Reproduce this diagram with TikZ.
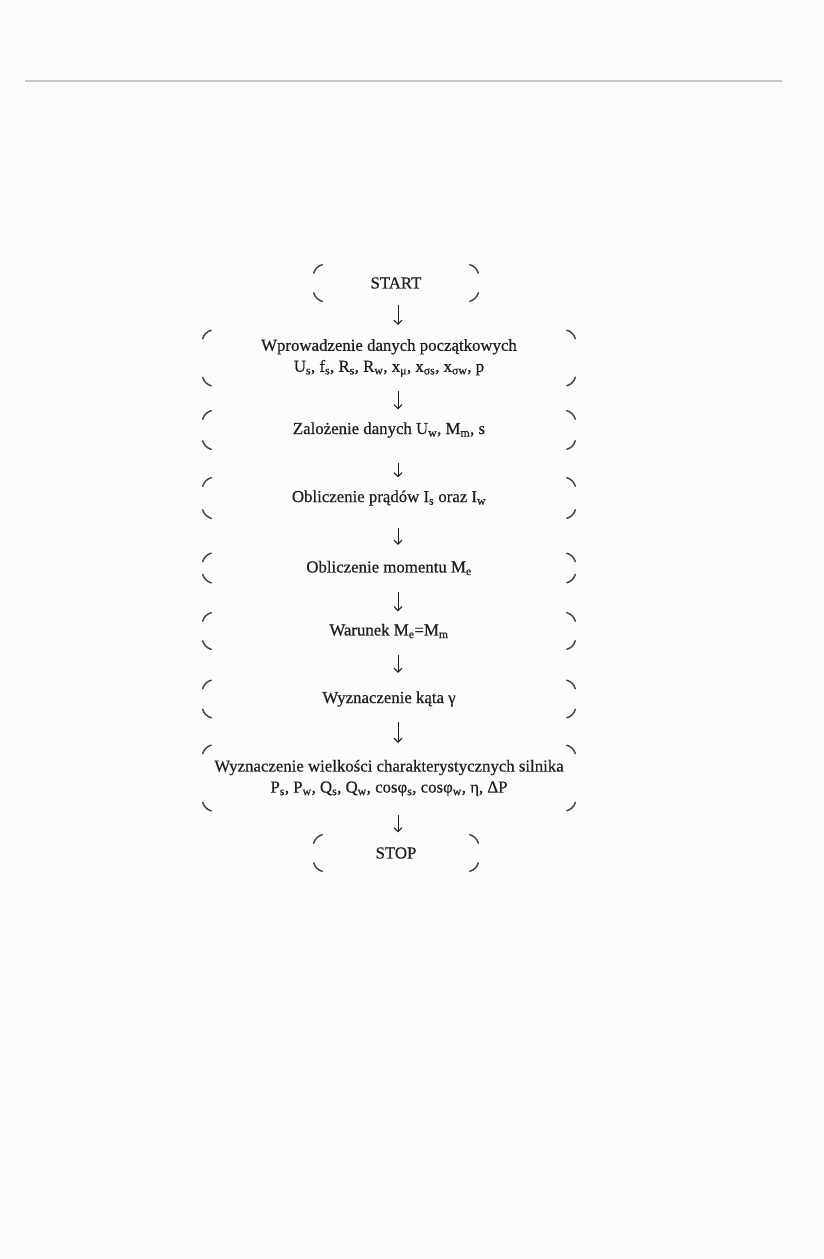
\documentclass[tikz,border=0pt]{standalone}
\usepackage{fontspec}
\setmainfont{Liberation Serif}[FakeBold=0.5]
\usetikzlibrary{arrows.meta}
\definecolor{ink}{HTML}{1E1E1E}
\definecolor{markc}{HTML}{454545}
\definecolor{paper}{HTML}{FBFBF9}
\newcommand\sub[1]{\textsubscript{#1}}
\newcommand\boxcorners[1]{%
  \draw[cornermark] ([shift={(0.4pt,-8.9pt)}]#1.north west) arc[start angle=165,end angle=105,radius=12pt];
  \draw[cornermark] ([shift={(-8.9pt,-0.4pt)}]#1.north east) arc[start angle=75,end angle=15,radius=12pt];
  \draw[cornermark] ([shift={(-0.4pt,8.9pt)}]#1.south east) arc[start angle=-15,end angle=-75,radius=12pt];
  \draw[cornermark] ([shift={(8.9pt,0.4pt)}]#1.south west) arc[start angle=255,end angle=195,radius=12pt];
}
\tikzset{
  stepbox/.style={draw=none, inner sep=0pt, align=center, text=ink,
    font=\fontsize{16.8}{21}\selectfont, minimum width=373pt},
  termbox/.style={stepbox, minimum width=165pt, minimum height=37pt},
  cornermark/.style={draw=markc, line width=1.5pt, line cap=round},
  flowarrow/.style={draw=ink, line width=1pt, -{Straight Barb[length=4pt,width=8pt,line width=1pt]}},
}
\begin{document}
\begin{tikzpicture}[x=1pt,y=1pt]
\fill[paper] (0,0) rectangle (824,-1259);
\useasboundingbox (0,0) rectangle (824,-1259);
\draw[gray!45, line width=1.2pt] (25,-81) -- (782,-81);

\coordinate (ax) at (398,0);

\node[termbox] (start) at (396,-283) {START};
\node[stepbox, minimum height=56pt] (dane) at (389,-358)
  {Wprowadzenie danych początkowych\\
   U\sub{s}, f\sub{s}, R\sub{s}, R\sub{w}, x\sub{μ}, x\sub{σs}, x\sub{σw}, p};
\node[stepbox, minimum height=39pt] (zal) at (389,-430)
  {Zalożenie danych U\sub{w}, M\sub{m}, s};
\node[stepbox, minimum height=41pt] (prady) at (389,-498)
  {Obliczenie prądów I\sub{s} oraz I\sub{w}};
\node[stepbox, minimum height=30pt] (moment) at (389,-568)
  {Obliczenie momentu M\sub{e}};
\node[stepbox, minimum height=37pt] (war) at (389,-631)
  {Warunek M\sub{e}=M\sub{m}};
\node[stepbox, minimum height=38pt] (kat) at (389,-699)
  {Wyznaczenie kąta γ};
\node[stepbox, minimum height=66pt] (wiel) at (389,-778)
  {Wyznaczenie wielkości charakterystycznych silnika\\
   P\sub{s}, P\sub{w}, Q\sub{s}, Q\sub{w}, cosφ\sub{s}, cosφ\sub{w}, η, ΔP};
\node[termbox] (stop) at (396,-853) {STOP};

\foreach \n in {start,dane,zal,prady,moment,war,kat,wiel,stop} {\boxcorners{\n}}

\draw[flowarrow] ([yshift=-3pt]start.south -| ax) -- ([yshift=5pt]dane.north -| ax);
\draw[flowarrow] ([yshift=-5pt]dane.south -| ax) -- ([yshift=1pt]zal.north -| ax);
\draw[flowarrow] ([yshift=-13pt]zal.south -| ax) -- ([yshift=0pt]prady.north -| ax);
\draw[flowarrow] ([yshift=-9pt]prady.south -| ax) -- ([yshift=8pt]moment.north -| ax);
\draw[flowarrow] ([yshift=-9pt]moment.south -| ax) -- ([yshift=1pt]war.north -| ax);
\draw[flowarrow] ([yshift=-5pt]war.south -| ax) -- ([yshift=7pt]kat.north -| ax);
\draw[flowarrow] ([yshift=-4pt]kat.south -| ax) -- ([yshift=2pt]wiel.north -| ax);
\draw[flowarrow] ([yshift=-4pt]wiel.south -| ax) -- ([yshift=2pt]stop.north -| ax);
\end{tikzpicture}
\end{document}
